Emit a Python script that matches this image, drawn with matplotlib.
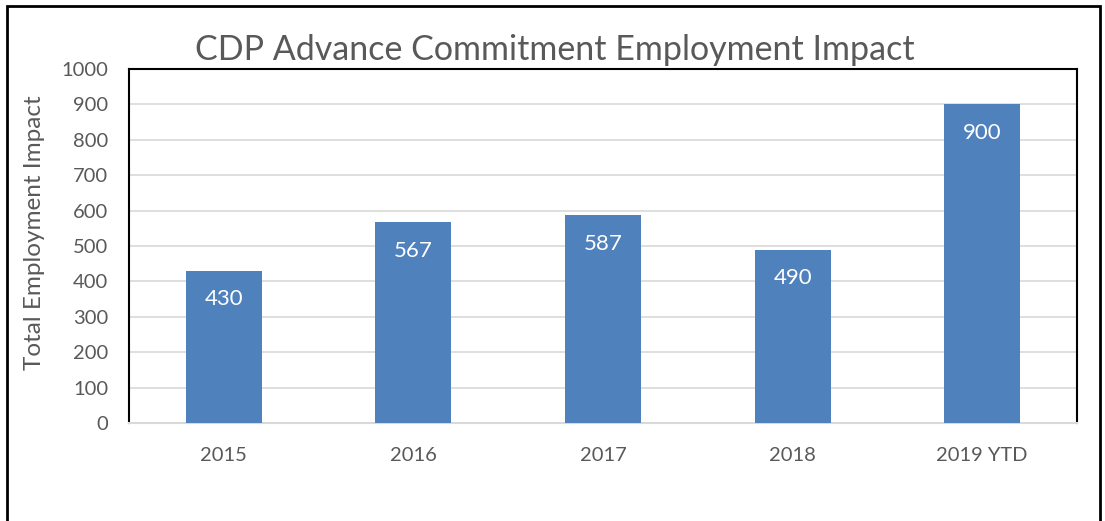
import numpy as np
import matplotlib.pyplot as plt
from matplotlib.patches import Rectangle

# dane
years = ['2015', '2016', '2017', '2018', '2019 YTD']
impact = [430, 567, 587, 490, 900]

plt.rcParams['font.family'] = ['Lato', 'DejaVu Sans']

fig = plt.figure(figsize=(11.05, 5.21), dpi=100)
ax = fig.add_axes([129 / 1105, 1 - 423 / 521, (1077 - 129) / 1105, (423 - 69) / 521])

x = np.arange(len(years))
bars = ax.bar(x, impact, width=0.4, color='#4F81BD', zorder=3)

for xi, v in zip(x, impact):
    ax.text(xi, v - 80, str(v), ha='center', va='center', color='white', fontsize=16, zorder=4)

ax.set_xlim(-0.5, len(years) - 0.5)
ax.set_ylim(0, 1000)
ax.set_yticks(np.arange(0, 1001, 100))
ax.set_xticks(x)
ax.set_xticklabels(years)
ax.tick_params(axis='both', length=0, labelsize=14.5, colors='#595959')
ax.tick_params(axis='x', pad=17)
ax.tick_params(axis='y', pad=15)
ax.yaxis.grid(True, color='#D9D9D9', linewidth=1.2, zorder=0)

for side in ['left', 'top', 'right']:
    ax.spines[side].set_color('black')
    ax.spines[side].set_linewidth(1.5)
ax.spines['bottom'].set_color('#D9D9D9')
ax.spines['bottom'].set_linewidth(1.5)

fig.text(35 / 1105, 1 - 233 / 521, 'Total Employment Impact', rotation=90,
         ha='center', va='center', fontsize=17.5, color='#595959')
fig.text(555 / 1105, 1 - 50 / 521, 'CDP Advance Commitment Employment Impact',
         ha='center', va='center', fontsize=24.5, color='#595959')

# ramka wokol calego wykresu
fig.patches.append(Rectangle((7 / 1105, -0.1), (1100 - 7) / 1105, 1.1 - 6 / 521,
                             transform=fig.transFigure, fill=False,
                             edgecolor='black', linewidth=2))

fig.savefig('out.png', dpi=100)
